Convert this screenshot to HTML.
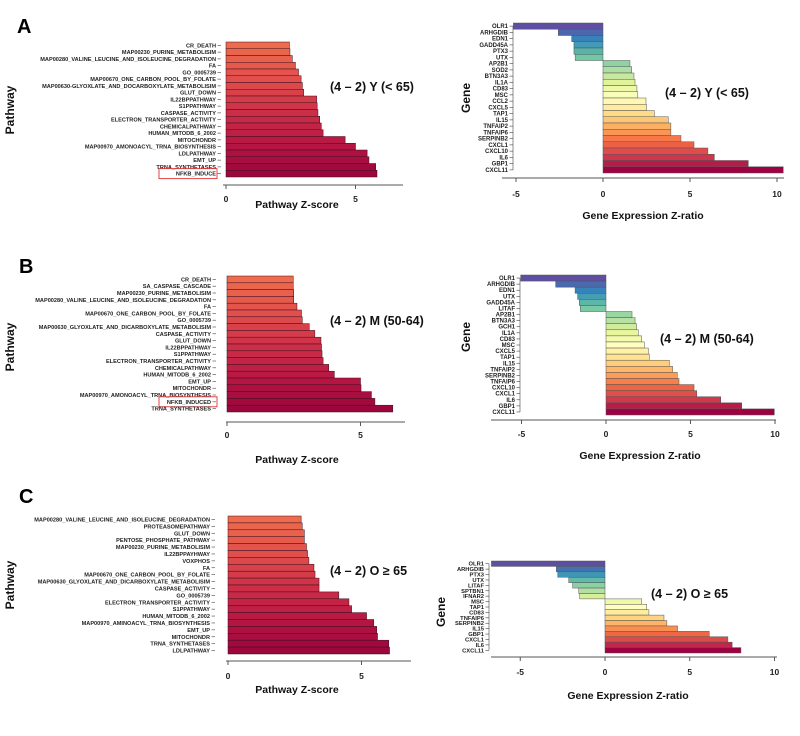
<!DOCTYPE html>
<html><head><meta charset="utf-8"><style>
html,body{margin:0;padding:0;background:#fff;}
svg{display:block;font-family:"Liberation Sans",Arial,sans-serif;}
</style></head><body>
<svg id="fig" width="800" height="736" viewBox="0 0 800 736" xmlns="http://www.w3.org/2000/svg"></svg>
<script>
// ---- data ----
const aPathways = ["CR_DEATH","MAP00230_PURINE_METABOLISIM","MAP00280_VALINE_LEUCINE_AND_ISOLEUCINE_DEGRADATION","FA","GO_0005739","MAP00670_ONE_CARBON_POOL_BY_FOLATE","MAP00630-GLYOXLATE_AND_DOCARBOXYLATE_METABOLISIM","GLUT_DOWN","IL22BPPATHWAY","S1PPATHWAY","CASPASE_ACTIVITY","ELECTRON_TRANSPORTER_ACTIVITY","CHEMICALPATHWAY","HUMAN_MITODB_6_2002","MITOCHONDR","MAP00970_AMONOACYL_TRNA_BIOSYNTHESIS","LDLPATHWAY","EMT_UP","TRNA_SYNTHETASES","NFKB_INDUCE"];
const aPathwayZ = [2.45,2.47,2.56,2.68,2.8,2.9,2.95,3.0,3.5,3.52,3.55,3.62,3.68,3.75,4.6,5.0,5.45,5.52,5.78,5.83];
const aGenes = ["OLR1","ARHGDIB","EDN1","GADD45A","PTX3","UTX","AP2B1","SOD2","BTN3A3","IL1A","CD83","MSC","CCL2","CXCL5","TAP1","IL15","TNFAIP2","TNFAIP6","SERPINB2","CXCL1","CXCL10","IL6","GBP1","CXCL11"];
const aGeneZ = [-5.15,-2.57,-1.8,-1.67,-1.67,-1.6,1.55,1.65,1.78,1.84,1.95,2.0,2.47,2.5,2.95,3.75,3.9,3.9,4.48,5.23,6.03,6.4,8.35,10.36];

const bPathways = ["CR_DEATH","SA_CASPASE_CASCADE","MAP00230_PURINE_METABOLISIM","MAP00280_VALINE_LEUCINE_AND_ISOLEUCINE_DEGRADATION","FA","MAP00670_ONE_CARBON_POOL_BY_FOLATE","GO_0005739","MAP00630_GLYOXLATE_AND_DICARBOXYLATE_METABOLISIM","CASPASE_ACTIVITY","GLUT_DOWN","IL22BPPATHWAY","S1PPATHWAY","ELECTRON_TRANSPORTER_ACTIVITY","CHEMICALPATHWAY","HUMAN_MITODB_6_2002","EMT_UP","MITOCHONDR","MAP00970_AMONOACYL_TRNA_BIOSYNTHESIS","NFKB_INDUCED","TRNA_SYNTHETASES"];
const bPathwayZ = [2.48,2.48,2.5,2.5,2.62,2.79,2.82,3.08,3.29,3.52,3.54,3.56,3.6,3.81,4.02,5.0,5.02,5.41,5.54,6.21];
const bGenes = ["OLR1","ARHGDIB","EDN1","UTX","GADD45A","LITAF","AP2B1","BTN3A3","GCH1","IL1A","CD83","MSC","CXCL5","TAP1","IL15","TNFAIP2","SERPINB2","TNFAIP6","CXCL10","CXCL1","IL6","GBP1","CXCL11"];
const bGeneZ = [-5.05,-2.98,-1.83,-1.68,-1.58,-1.52,1.54,1.72,1.81,1.91,2.11,2.27,2.5,2.56,3.75,3.94,4.22,4.32,5.21,5.37,6.79,8.03,9.96];

const cPathways = ["MAP00280_VALINE_LEUCINE_AND_ISOLEUCINE_DEGRADATION","PROTEASOMEPATHWAY","GLUT_DOWN","PENTOSE_PHOSPHATE_PATHWAY","MAP00230_PURINE_METABOLISIM","IL22BPPAYHWAY","VOXPHOS","FA","MAP00670_ONE_CARBON_POOL_BY_FOLATE","MAP00630_GLYOXLATE_AND_DICARBOXYLATE_METABOLISIM","CASPASE_ACTIVITY","GO_0005739","ELECTRON_TRANSPORTER_ACTIVITY","S1PPATHWAY","HUMAN_MITODB_6_2002","MAP00970_AMINOACYL_TRNA_BIOSYNTHESIS","EMT_UP","MITOCHONDR","TRNA_SYNTHETASES","LDLPATHWAY"];
const cPathwayZ = [2.74,2.78,2.86,2.86,2.94,2.98,3.03,3.22,3.26,3.41,3.41,4.15,4.53,4.63,5.19,5.46,5.57,5.6,6.02,6.05];
const cGenes = ["OLR1","ARHGDIB","PTX3","UTX","LITAF","SPTBN1","IFNAR2","MSC","TAP1","CD83","TNFAIP6","SERPINB2","IL15","GBP1","CXCL1","IL6","CXCL11"];
const cGeneZ = [-6.7,-2.87,-2.79,-2.14,-1.91,-1.55,-1.49,2.17,2.46,2.59,3.48,3.65,4.28,6.15,7.25,7.5,8.02];

const pathwayTicks = [0,5];
const geneTicks = [-5,0,5,10];

// ---- drawing ----
const NS="http://www.w3.org/2000/svg";
const svg=document.getElementById('fig');
function mk(tag,attrs,parent){const e=document.createElementNS(NS,tag);for(const k in attrs)e.setAttribute(k,attrs[k]);(parent||svg).appendChild(e);return e;}
function txt(s,attrs,parent){const e=mk('text',attrs,parent);e.textContent=s;return e;}
function hex(h){return [1,3,5].map(i=>parseInt(h.substr(i,2),16));}
function lerpCol(stops,t){t=Math.max(0,Math.min(1,t));const n=stops.length-1;const k=Math.min(n-1,Math.floor(t*n));const f=t*n-k;const a=hex(stops[k]),b=hex(stops[k+1]);return 'rgb('+a.map((v,i)=>Math.round(v+(b[i]-v)*f)).join(',')+')';}
const warm=["#ee6b4d","#e2504c","#cf3147","#b81843","#9c063d"];
const spectral=["#5e4fa2","#3288bd","#66c2a5","#abdda4","#e6f598","#ffffbf","#fee08b","#fdae61","#f46d43","#d53e4f","#9e0142"];

function panel(p){
  const g=mk('g',{},svg);
  
  
  const xs=v=>p.x0+v*p.unit;
  const n=p.cats.length, bh=(p.bottom-p.top)/n;
  p.cats.forEach((c,i)=>{
    const v=p.vals[i], y=p.top+i*bh;
    const x1=Math.min(xs(0),xs(v)), w=Math.abs(xs(v)-xs(0));
    const col=p.kind==='path'?lerpCol(warm,i/(n-1)):lerpCol(spectral,i/(n-1));
    const r=mk('rect',{x:x1,y:y,width:w,height:bh,fill:col,stroke:p.kind==='path'?'#3a1020':'#555','stroke-width':0.5},g);
    
    
    const l=txt(c,{x:p.labelX,y:y+bh/2+2,'text-anchor':'end','font-size':p.lfs,'font-weight':'bold',fill:'#222'},g);
    
    
    mk('line',{x1:p.labelX+1.5,x2:p.labelX+5,y1:y+bh/2,y2:y+bh/2,stroke:'#444','stroke-width':0.6},g);
    if(p.box && p.box===c){
      const bx=mk('rect',{x:159,y:y+bh/2-5,width:58,height:10,fill:'none',stroke:'#e03030','stroke-width':0.9},g);
      
      
    }
  });
  if(p.kind==='gene') mk('line',{x1:p.labelX+5,x2:p.labelX+5,y1:p.top+bh/2,y2:p.bottom-bh/2,stroke:'#444','stroke-width':0.6},g);
  const ax=mk('line',{x1:p.ax1,x2:p.ax2,y1:p.axisY,y2:p.axisY,stroke:'#555','stroke-width':1},g);
  
  
  p.ticks.forEach(t=>{
    mk('line',{x1:xs(t),x2:xs(t),y1:p.axisY,y2:p.axisY+4,stroke:'#555','stroke-width':1},g);
    const tl=txt(String(t),{x:xs(t),y:p.tickY,'text-anchor':'middle','font-size':8.5,'font-weight':'bold',fill:'#222'},g);
    
    
  });
  const xt=txt(p.xtitle,{x:p.xtX,y:p.xtY,'text-anchor':'middle','font-size':10.5,'font-weight':'bold',fill:'#111'},g);
  
  
  const yt=txt(p.ytitle,{x:0,y:0,'text-anchor':'middle','font-size':12,'font-weight':'bold',fill:'#111',transform:'translate('+p.ytX+','+p.ytY+') rotate(-90)'},g);
  
  
  const an=txt(p.note,{x:p.noteX,y:p.noteY,'font-size':12.5,'font-weight':'bold',fill:'#111'},g);
  
  
}

const panels=[
 {name:'panel-a-pathway',kind:'path',cats:aPathways,vals:aPathwayZ,ticks:pathwayTicks,x0:226,unit:25.9,top:42,bottom:177,labelX:216,lfs:5.6,axisY:185,ax1:223,ax2:403,tickY:202,xtitle:'Pathway Z-score',xtX:297,xtY:208,ytitle:'Pathway',ytX:14,ytY:110,note:'(4 – 2) Y (< 65)',noteX:330,noteY:91,box:'NFKB_INDUCE'},
 {name:'panel-a-gene',kind:'gene',cats:aGenes,vals:aGeneZ,ticks:geneTicks,x0:603,unit:17.4,top:23,bottom:173,labelX:508,lfs:6,axisY:178,ax1:502,ax2:784,tickY:197,xtitle:'Gene Expression Z-ratio',xtX:643,xtY:219,ytitle:'Gene',ytX:470,ytY:98,note:'(4 – 2) Y (< 65)',noteX:665,noteY:97},
 {name:'panel-b-pathway',kind:'path',cats:bPathways,vals:bPathwayZ,ticks:pathwayTicks,x0:227,unit:26.7,top:276,bottom:412,labelX:211,lfs:5.6,axisY:422,ax1:226,ax2:405,tickY:438,xtitle:'Pathway Z-score',xtX:297,xtY:463,ytitle:'Pathway',ytX:14,ytY:347,note:'(4 – 2) M (50-64)',noteX:330,noteY:325,box:'NFKB_INDUCED'},
 {name:'panel-b-gene',kind:'gene',cats:bGenes,vals:bGeneZ,ticks:geneTicks,x0:606,unit:16.9,top:275,bottom:415,labelX:515,lfs:6,axisY:420,ax1:491,ax2:776,tickY:437,xtitle:'Gene Expression Z-ratio',xtX:640,xtY:459,ytitle:'Gene',ytX:470,ytY:337,note:'(4 – 2) M (50-64)',noteX:660,noteY:343},
 {name:'panel-c-pathway',kind:'path',cats:cPathways,vals:cPathwayZ,ticks:pathwayTicks,x0:228,unit:26.7,top:516,bottom:654,labelX:210,lfs:5.6,axisY:661,ax1:226,ax2:411,tickY:679,xtitle:'Pathway Z-score',xtX:297,xtY:693,ytitle:'Pathway',ytX:14,ytY:585,note:'(4 – 2) O ≥ 65',noteX:330,noteY:575},
 {name:'panel-c-gene',kind:'gene',cats:cGenes,vals:cGeneZ,ticks:geneTicks,x0:605,unit:16.95,top:561,bottom:653,labelX:484,lfs:5.8,axisY:657,ax1:491,ax2:777,tickY:675,xtitle:'Gene Expression Z-ratio',xtX:628,xtY:699,ytitle:'Gene',ytX:445,ytY:612,note:'(4 – 2) O ≥ 65',noteX:651,noteY:598}
];
panels.forEach(panel);

[['A',17,33],['B',19,273],['C',19,503]].forEach(([s,x,y])=>{
  const t=txt(s,{x:x,y:y,'font-size':20,'font-weight':'bold',fill:'#000'});
  
  
});
</script>
</body></html>
